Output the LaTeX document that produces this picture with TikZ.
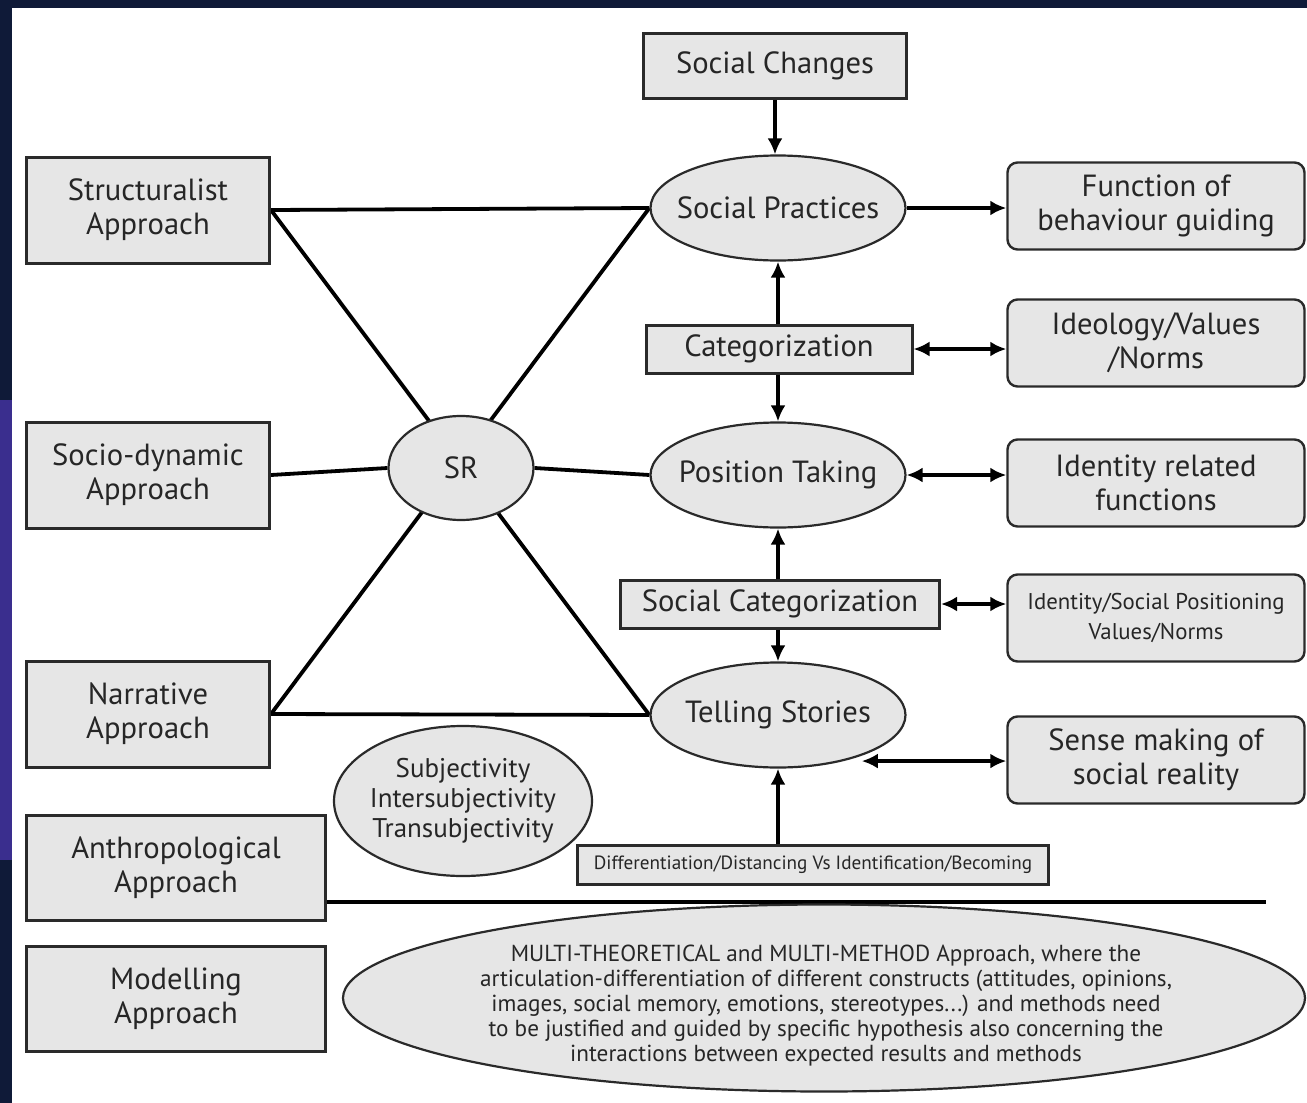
\documentclass[tikz,border=0pt]{standalone}
\usepackage{fontspec}
\setmainfont{PT Sans}
\usetikzlibrary{shapes.geometric,arrows.meta,backgrounds}
\definecolor{boxfill}{HTML}{E6E6E6}
\definecolor{ink}{HTML}{262626}
\definecolor{edge}{HTML}{2A2A2A}
\definecolor{navy}{HTML}{0F1A38}
\definecolor{violet}{HTML}{3A2E8E}
\begin{document}
\begin{tikzpicture}[x=0.5pt,y=-0.5pt,
  every node/.style={text=ink, align=center, inner sep=0pt},
  mainfont/.style={font=\fontsize{15.3}{17}\selectfont},
  rbox/.style={rectangle, draw=edge, fill=boxfill, line width=1.5pt, mainfont},
  ebox/.style={ellipse, draw=edge, fill=boxfill, line width=1.1pt, mainfont},
  fbox/.style={rectangle, rounded corners=5pt, draw=edge, fill=boxfill, line width=1.2pt,
               minimum width=148.5pt, minimum height=43.5pt, mainfont},
  appbox/.style={rbox, minimum width=121.5pt, minimum height=53pt},
  wappbox/.style={rbox, minimum width=149.5pt, minimum height=52.5pt},
  bigell/.style={ebox, inner xsep=-14pt, minimum width=127.5pt, minimum height=52.5pt},
  conn/.style={draw=black, line width=1.9pt},
  arr/.style={conn, -{Latex[length=8pt,width=7.5pt]}},
  darr/.style={conn, {Latex[length=8pt,width=7.5pt]}-{Latex[length=8pt,width=7.5pt]}}
]
\useasboundingbox (0,0) rectangle (1307,1103);

% nodes
\node[rbox, minimum width=131.5pt, minimum height=32.5pt] (sc) at (775,66) {Social Changes};
\node[appbox] (struct) at (148,210) {Structuralist\\Approach};
\node[appbox] (socio) at (148,475) {Socio-dynamic\\Approach};
\node[appbox] (narr) at (148,714) {Narrative\\Approach};
\node[wappbox] (anth) at (176,868) {Anthropological\\Approach};
\node[wappbox] (model) at (176,999) {Modelling\\Approach};

\node[bigell] (sp) at (778,208) {Social Practices};
\node[bigell] (pt) at (778,475) {Position Taking};
\node[bigell] (ts) at (778,715) {Telling Stories};
\node[ebox, minimum width=72.5pt, minimum height=52pt] (sr) at (461,468) {SR};
\node[ebox, inner xsep=-8pt, minimum width=129pt, minimum height=75pt, font=\fontsize{13.5}{15}\selectfont] (subj) at (463,801)
  {Subjectivity\\Intersubjectivity\\Transubjectivity};
\node[ebox, minimum width=481pt, minimum height=93.5pt] (multi) at (824,998) {};
\node[font=\fontsize{11.6}{12.5}\selectfont] (multitext) at (826,1006)
  {MULTI-THEORETICAL and MULTI-METHOD Approach, where the\\
   articulation-differentiation of different constructs (attitudes, opinions,\\
   images, social memory, emotions, stereotypes...) and methods need\\
   to be justified and guided by specific hypothesis also concerning the\\
   interactions between expected results and methods};

\node[rbox, minimum width=133pt, minimum height=24pt] (cat) at (779,349) {Categorization};
\node[rbox, minimum width=159.5pt, minimum height=24pt] (scat) at (780,604) {Social Categorization};
\node[rbox, minimum width=235.5pt, minimum height=19.5pt, font=\fontsize{9.6}{11}\selectfont] (diff) at (813,865)
  {Differentiation/Distancing Vs Identification/Becoming};

\node[fbox] (func) at (1156,206) {Function of\\behaviour guiding};
\node[fbox] (ideo) at (1156,343) {Ideology/Values\\/Norms};
\node[fbox] (ident) at (1156,483) {Identity related\\functions};
\node[fbox, font=\fontsize{11.4}{15}\selectfont] (isp) at (1156,618) {Identity/Social Positioning\\Values/Norms};
\node[fbox] (sense) at (1156,760) {Sense making of\\social reality};

\coordinate (tsr) at ([xshift=9pt]ts.-35);

% background and lines under the nodes
\begin{scope}[on background layer]
  \fill[white] (0,0) rectangle (1307,1103);
  \fill[navy] (0,0) rectangle (1307,8);
  \fill[navy] (0,0) rectangle (12,1103);
  \fill[violet] (0,400) rectangle (12,860);
  \draw[conn] (struct.east) -- (sp.west);
  \draw[conn] (narr.east) -- (ts.west);
  \draw[conn] (struct.east) -- (ts.west);
  \draw[conn] (sp.west) -- (narr.east);
  \draw[conn] (socio.east) -- (sr.west);
  \draw[conn] (sr.east) -- (pt.west);
  \draw[conn] ([yshift=-17pt]anth.east) -- ++(939,0);
\end{scope}

% arrows
\draw[arr] (sc.south) -- (sc.south |- sp.north);
\draw[arr] (sp.east) -- (sp.east -| func.west);
\draw[arr] (cat.north -| sp.south) -- (sp.south);
\draw[arr] (cat.south -| pt.north) -- (pt.north);
\draw[darr] (cat.east) -- (cat.east -| ideo.west);
\draw[darr] (pt.east) -- (pt.east -| ident.west);
\draw[arr] (scat.north -| pt.south) -- (pt.south);
\draw[arr] (scat.south -| ts.north) -- (ts.north);
\draw[darr] (scat.east) -- (scat.east -| isp.west);
\draw[darr] (tsr) -- (tsr -| sense.west);
\draw[arr] (diff.north -| ts.south) -- (ts.south);
\end{tikzpicture}
\end{document}
